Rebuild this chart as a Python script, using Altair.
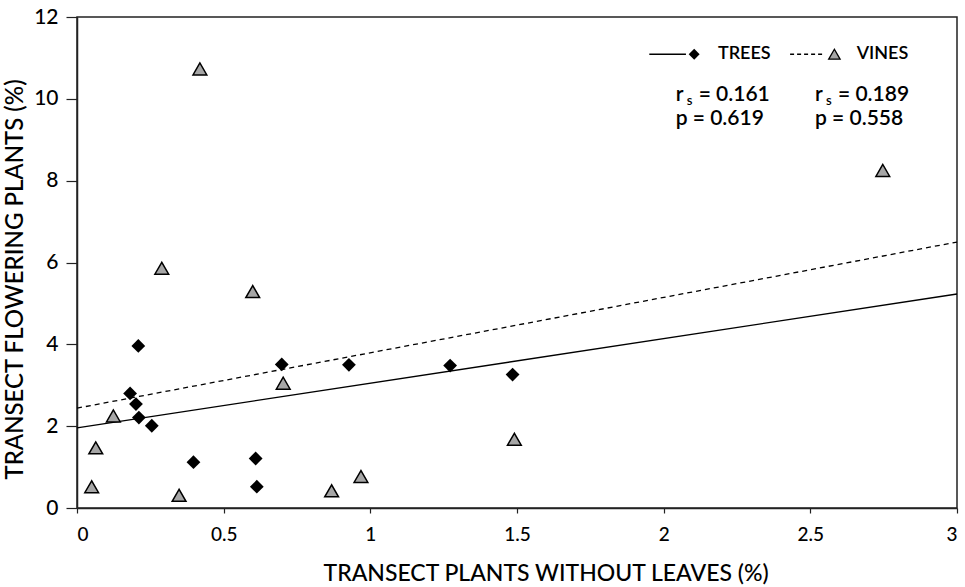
import altair as alt
import pandas as pd

# ---- data ----
tree_x = [0.209, 0.181, 0.201, 0.211, 0.255, 0.397, 0.609, 0.613, 0.698, 0.927, 1.272, 1.485]
tree_y = [3.96, 2.80, 2.54, 2.21, 2.01, 1.12, 1.21, 0.52, 3.51, 3.50, 3.48, 3.26]
vine_x = [0.050, 0.064, 0.124, 0.348, 0.289, 0.419, 0.599, 0.703, 0.868, 0.968, 1.491, 2.747]
vine_y = [0.52, 1.47, 2.25, 0.31, 5.86, 10.73, 5.29, 3.05, 0.42, 0.77, 1.68, 8.25]

# regression lines (end points)
tree_fit_x = [0, 3]
tree_fit_y = [1.96, 5.23]
vine_fit_x = [0, 3]
vine_fit_y = [2.44, 6.50]

x_ticks = [0, 0.5, 1, 1.5, 2, 2.5, 3]
y_ticks = [0, 2, 4, 6, 8, 10, 12]

# legend / annotation anchors (data units)
leg_y = 11.09
leg_tree_line_x = [1.951, 2.076]
leg_tree_sym_x = [2.104]
leg_vine_line_x = [2.431, 2.550]
leg_vine_sym_x = [2.582]
leg_names = ["TREES", "VINES"]
leg_names_x = [2.185, 2.658]
stat_col_x = [2.041, 2.516]
rs_vals = ["= 0.161", "= 0.189"]
p_vals = ["p = 0.619", "p = 0.558"]
rs_y = 10.10
p_y = 9.50

FONT = "Lato"

trees = pd.DataFrame({"x": tree_x, "y": tree_y})
vines = pd.DataFrame({"x": vine_x, "y": vine_y})
tree_fit = pd.DataFrame({"x": tree_fit_x, "y": tree_fit_y})
vine_fit = pd.DataFrame({"x": vine_fit_x, "y": vine_fit_y})

X = alt.X("x:Q",
          scale=alt.Scale(domain=[0, 3], nice=False, zero=False),
          axis=alt.Axis(values=x_ticks, format="~g", grid=False,
                        title="TRANSECT PLANTS WITHOUT LEAVES (%)",
                        tickSize=5, labelPadding=12, titlePadding=18,
                        labelFontSize=19, titleFontSize=23,
                        titleX=246, titleAlign="left"))
Y = alt.Y("y:Q",
          scale=alt.Scale(domain=[0, 12], nice=False, zero=False),
          axis=alt.Axis(values=y_ticks, grid=False,
                        title="TRANSECT FLOWERING PLANTS (%)",
                        tickSize=11, labelPadding=8, titlePadding=6,
                        labelFontSize=21, titleFontSize=24, titleY=262))

fit_tree = alt.Chart(tree_fit).mark_line(color="black", strokeWidth=1.3).encode(x=X, y=Y)
fit_vine = alt.Chart(vine_fit).mark_line(color="black", strokeWidth=1.3,
                                         strokeDash=[5, 4]).encode(x=X, y=Y)

pts_tree = alt.Chart(trees).mark_point(shape="diamond", filled=True, color="black",
                                       size=190, opacity=1).encode(x=X, y=Y)
pts_vine = alt.Chart(vines).mark_point(shape="triangle-up", filled=True, fill="#a6a6a6",
                                       stroke="black", strokeWidth=1.5, size=190,
                                       opacity=1).encode(x=X, y=Y)

# legend
leg_tl = alt.Chart(pd.DataFrame({"x": leg_tree_line_x, "y": [leg_y] * 2})).mark_line(
    color="black", strokeWidth=1.3).encode(x=X, y=Y)
leg_vl = alt.Chart(pd.DataFrame({"x": leg_vine_line_x, "y": [leg_y] * 2})).mark_line(
    color="black", strokeWidth=1.3, strokeDash=[4, 3]).encode(x=X, y=Y)
leg_ts = alt.Chart(pd.DataFrame({"x": leg_tree_sym_x, "y": [leg_y]})).mark_point(
    shape="diamond", filled=True, color="black", size=120, opacity=1).encode(x=X, y=Y)
leg_vs = alt.Chart(pd.DataFrame({"x": leg_vine_sym_x, "y": [leg_y]})).mark_point(
    shape="triangle-up", filled=True, fill="#a6a6a6", stroke="black", strokeWidth=1.3,
    size=130, opacity=1).encode(x=X, y=Y)
leg_txt = alt.Chart(pd.DataFrame({"x": leg_names_x, "y": [leg_y] * 2, "t": leg_names})).mark_text(
    align="left", baseline="middle", fontSize=18, font=FONT, fontWeight=600, color="black"
).encode(x=X, y=Y, text="t:N")

rs_df = pd.DataFrame({"x": stat_col_x, "y": [rs_y] * 2, "t": rs_vals})
r_txt = alt.Chart(rs_df).mark_text(align="left", baseline="middle", fontSize=21, font=FONT,
                                   fontWeight=600, color="black").encode(
    x=X, y=Y, text=alt.value("r"))
s_txt = alt.Chart(rs_df).mark_text(align="left", baseline="middle", fontSize=13, font=FONT,
                                   fontWeight=600, color="black", dx=11, dy=6).encode(
    x=X, y=Y, text=alt.value("s"))
rv_txt = alt.Chart(rs_df).mark_text(align="left", baseline="middle", fontSize=21, font=FONT,
                                    fontWeight=600, color="black", dx=23).encode(
    x=X, y=Y, text="t:N")
p_txt = alt.Chart(pd.DataFrame({"x": stat_col_x, "y": [p_y] * 2, "t": p_vals})).mark_text(
    align="left", baseline="middle", fontSize=21, font=FONT, fontWeight=600, color="black"
).encode(x=X, y=Y, text="t:N")

chart = alt.layer(
    fit_tree, fit_vine, pts_tree, pts_vine,
    leg_tl, leg_vl, leg_ts, leg_vs, leg_txt, r_txt, s_txt, rv_txt, p_txt
).properties(
    width=880, height=491,
    autosize=alt.AutoSizeParams(type="none"),
    padding={"left": 77, "top": 17, "right": 8, "bottom": 79},
    background="white",
).configure_view(
    stroke="#222", strokeWidth=1.5
).configure_axis(
    labelFont=FONT, titleFont=FONT,
    labelColor="black", titleColor="black", labelFontWeight=500, titleFontWeight=500,
    domainColor="#222", domainWidth=1.5, tickColor="#222", tickWidth=1.2,
)

chart.save("out.html", embed_options={"renderer": "svg", "actions": False})
